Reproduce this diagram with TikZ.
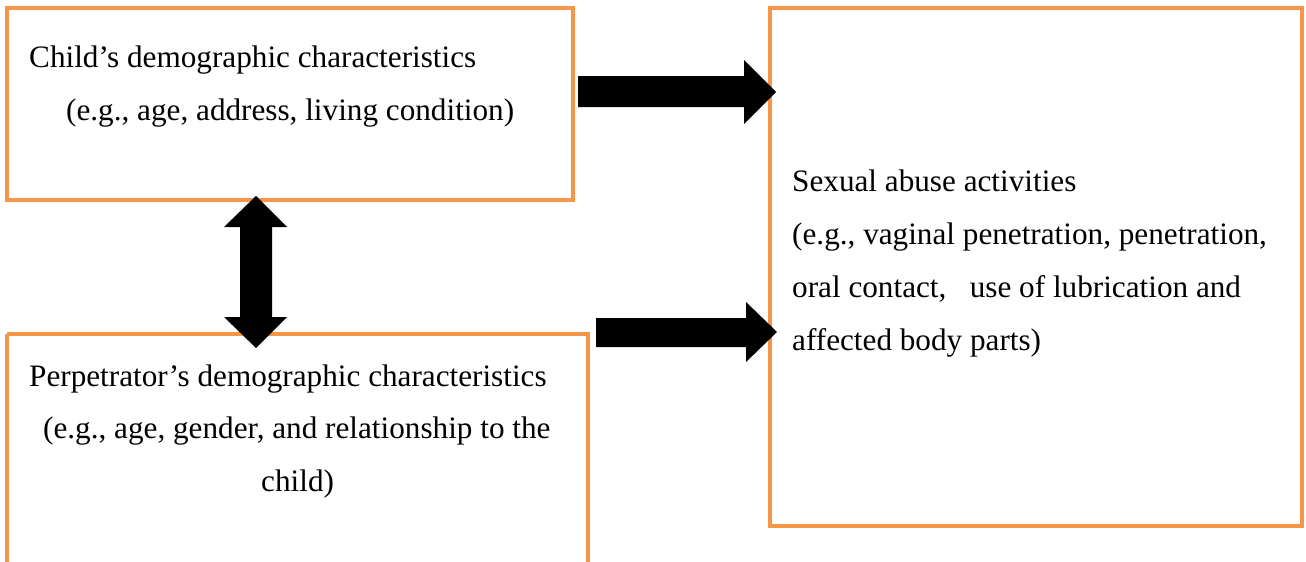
\documentclass[tikz,border=0pt]{standalone}
\usepackage{fontspec}
\setmainfont{Liberation Serif}
\definecolor{boxorange}{HTML}{F79646}
\begin{document}
\begin{tikzpicture}[x=1pt,y=-1pt,
  frame/.style={draw=boxorange, line width=4pt},
  txt/.style={anchor=base west, inner sep=0pt, font=\fontsize{31.2}{37}\selectfont},
  blockarrow/.style={fill=black, draw=none}]
\useasboundingbox[fill=white] (0,0) rectangle (1306,562);
% boxes
\draw[frame] (7,8) rectangle (573,200);
\draw[frame] (7,334) -- (588,334) -- (588,570);
\draw[frame] (7,334) -- (7,570);
\draw[frame] (770,8) rectangle (1302,526);
\coordinate (child) at (7,8);
\coordinate (perp) at (7,334);
\coordinate (sex) at (770,8);
% texts
\node[txt] (c1) at (29,67) {Child’s demographic characteristics};
\node[txt] (c2) at (66,120) {(e.g., age, address, living condition)};
\node[txt] (p1) at (29,386) {Perpetrator’s demographic characteristics};
\node[txt] (p2) at (43,438) {(e.g., age, gender, and relationship to the};
\node[txt] (p3) at (261,491) {child)};
\node[txt] (s1) at (792,191) {Sexual abuse activities};
\node[txt] (s2) at (792,244) {(e.g., vaginal penetration, penetration,};
\node[txt] (s3) at (792,297) {oral contact,\hspace{0.5em} use of lubrication and};
\node[txt] (s4) at (792,350) {affected body parts)};
% arrow child -> sexual
\fill[blockarrow] (578,76) -- (744,76) -- (744,60) -- (776,92) -- (744,124) -- (744,107) -- (578,107) -- cycle;
% arrow perpetrator -> sexual
\fill[blockarrow] (596,318) -- (746,318) -- (746,302) -- (777,332) -- (746,362) -- (746,347) -- (596,347) -- cycle;
% double arrow child <-> perpetrator
\fill[blockarrow] (256,196) -- (287,227) -- (272,227) -- (272,317) -- (287,317) -- (256,348) -- (224,317) -- (240,317) -- (240,227) -- (224,227) -- cycle;
\end{tikzpicture}
\end{document}
